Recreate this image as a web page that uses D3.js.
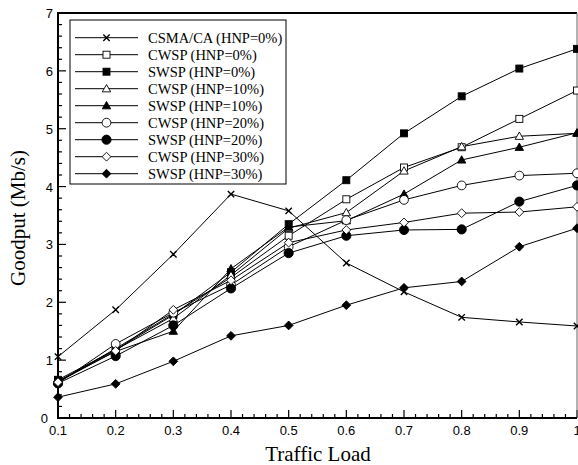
<!DOCTYPE html>
<html>
<head>
<meta charset="utf-8">
<script src="https://cdn.jsdelivr.net/npm/d3@7"></script>
<style>
  body { margin: 0; background: #fff; }
  svg { display: block; }
</style>
</head>
<body>
<script>
const loads = [0.1, 0.2, 0.3, 0.4, 0.5, 0.6, 0.7, 0.8, 0.9, 1.0]
const seriesNames = [
  'CSMA/CA (HNP=0%)',
  'CWSP (HNP=0%)',
  'SWSP (HNP=0%)',
  'CWSP (HNP=10%)',
  'SWSP (HNP=10%)',
  'CWSP (HNP=20%)',
  'SWSP (HNP=20%)',
  'CWSP (HNP=30%)',
  'SWSP (HNP=30%)'
]
const markerTypes = ['x', 'square', 'square', 'triangle', 'triangle', 'circle', 'circle', 'diamond', 'diamond']
const markerFilled = [false, false, true, false, true, false, true, false, true]

const csma0 = [1.06, 1.87, 2.83, 3.87, 3.58, 2.68, 2.18, 1.74, 1.66, 1.59]
const cwsp0 = [0.62, 1.20, 1.80, 2.43, 3.15, 3.78, 4.33, 4.68, 5.17, 5.66]
const swsp0 = [0.66, 1.18, 1.78, 2.52, 3.35, 4.11, 4.92, 5.56, 6.04, 6.38]
const cwsp10 = [0.63, 1.18, 1.72, 2.47, 3.28, 3.55, 4.27, 4.69, 4.87, 4.92]
const swsp10 = [0.64, 1.15, 1.50, 2.58, 3.30, 3.41, 3.87, 4.46, 4.68, 4.93]
const cwsp20 = [0.60, 1.28, 1.82, 2.30, 2.96, 3.42, 3.77, 4.02, 4.19, 4.23]
const swsp20 = [0.60, 1.07, 1.60, 2.24, 2.85, 3.15, 3.25, 3.26, 3.74, 4.02]
const cwsp30 = [0.62, 1.16, 1.87, 2.38, 3.03, 3.25, 3.38, 3.54, 3.56, 3.65]
const swsp30 = [0.36, 0.59, 0.98, 1.42, 1.60, 1.95, 2.25, 2.36, 2.96, 3.28]

const xTicks = [0.1, 0.2, 0.3, 0.4, 0.5, 0.6, 0.7, 0.8, 0.9, 1]
const yTicks = [0, 1, 2, 3, 4, 5, 6, 7]

const allSeries = [csma0, cwsp0, swsp0, cwsp10, swsp10, cwsp20, swsp20, cwsp30, swsp30]

const size = { width: 578, height: 465 }
const plot = { left: 58, right: 577, top: 13, bottom: 418 }

const svg = d3.select('body')
  .append('svg')
  .attr('width', size.width)
  .attr('height', size.height)

const xScale = d3.scaleLinear().domain([0.1, 1]).range([plot.left, plot.right])
const yScale = d3.scaleLinear().domain([0, 7]).range([plot.bottom, plot.top])

// draw one marker of the given type at (x, y)
function marker(g, type, filled, x, y) {
  const fill = filled ? '#000' : '#fff'
  if (type === 'x') {
    const s = 3.2
    g.append('path')
      .attr('d', `M${x - s},${y - s}L${x + s},${y + s}M${x - s},${y + s}L${x + s},${y - s}`)
      .attr('stroke', '#000').attr('stroke-width', 1.4).attr('fill', 'none')
  } else if (type === 'square') {
    const s = 3.5
    g.append('rect')
      .attr('x', x - s).attr('y', y - s).attr('width', 2 * s).attr('height', 2 * s)
      .attr('fill', fill).attr('stroke', '#000').attr('stroke-width', 0.9)
  } else if (type === 'triangle') {
    const s = 4.2
    g.append('path')
      .attr('d', `M${x},${y - s}L${x + s},${y + s * 0.75}L${x - s},${y + s * 0.75}Z`)
      .attr('fill', fill).attr('stroke', '#000').attr('stroke-width', 0.9)
  } else if (type === 'circle') {
    g.append('circle')
      .attr('cx', x).attr('cy', y).attr('r', filled ? 4.6 : 4.4)
      .attr('fill', fill).attr('stroke', '#000').attr('stroke-width', 0.9)
  } else if (type === 'diamond') {
    const s = 4.4
    g.append('path')
      .attr('d', `M${x},${y - s}L${x + s},${y}L${x},${y + s}L${x - s},${y}Z`)
      .attr('fill', fill).attr('stroke', '#000').attr('stroke-width', 0.9)
  }
}

// axes ticks (inward)
const axisG = svg.append('g')
const xMinor = d3.range(0.1, 1.0001, 0.02)
xMinor.forEach(v => {
  const major = Math.abs(Math.round(v * 10) - v * 10) < 1e-6
  axisG.append('line')
    .attr('x1', xScale(v)).attr('x2', xScale(v))
    .attr('y1', plot.bottom).attr('y2', plot.bottom - (major ? 8 : 4))
    .attr('stroke', '#000').attr('stroke-width', 1.2)
})
const yMinor = d3.range(0, 7.0001, 0.2)
yMinor.forEach(v => {
  const major = Math.abs(Math.round(v) - v) < 1e-6
  axisG.append('line')
    .attr('x1', plot.left).attr('x2', plot.left + (major ? 8 : 4))
    .attr('y1', yScale(v)).attr('y2', yScale(v))
    .attr('stroke', '#000').attr('stroke-width', 1.2)
})

xTicks.forEach(v => {
  svg.append('text')
    .attr('x', xScale(v))
    .attr('y', plot.bottom + 17)
    .attr('text-anchor', 'middle')
    .style('font-family', 'Liberation Sans, Arial, sans-serif')
    .style('font-size', '13px')
    .text(v === 1 ? '1' : v.toFixed(1))
})
yTicks.forEach(v => {
  svg.append('text')
    .attr('x', plot.left - (v === 0 ? 10 : 5))
    .attr('y', yScale(v) + 5)
    .attr('text-anchor', 'end')
    .style('font-family', 'Liberation Sans, Arial, sans-serif')
    .style('font-size', '13px')
    .text(v)
})

// frame
svg.append('line').attr('x1', plot.left).attr('x2', plot.right).attr('y1', plot.top).attr('y2', plot.top)
  .attr('stroke', '#000').attr('stroke-width', 2)
svg.append('line').attr('x1', plot.right).attr('x2', plot.right).attr('y1', plot.top).attr('y2', plot.bottom)
  .attr('stroke', '#666').attr('stroke-width', 1)
svg.append('line').attr('x1', plot.left).attr('x2', plot.left).attr('y1', plot.top - 1).attr('y2', plot.bottom + 1)
  .attr('stroke', '#000').attr('stroke-width', 2)
svg.append('line').attr('x1', plot.left - 1).attr('x2', plot.right).attr('y1', plot.bottom).attr('y2', plot.bottom)
  .attr('stroke', '#000').attr('stroke-width', 2)

// axis titles
svg.append('text')
  .attr('x', 318)
  .attr('y', 461)
  .attr('text-anchor', 'middle')
  .style('font-family', 'Liberation Serif, Times New Roman, serif')
  .style('font-size', '21px')
  .text('Traffic Load')

svg.append('text')
  .attr('transform', 'translate(25,218)rotate(-90)')
  .attr('text-anchor', 'middle')
  .style('font-family', 'Liberation Serif, Times New Roman, serif')
  .style('font-size', '21px')
  .text('Goodput (Mb/s)')

// series
const line = d3.line()
  .x((d, i) => xScale(loads[i]))
  .y(d => yScale(d))

const seriesG = svg.append('g')
allSeries.forEach((vals, k) => {
  seriesG.append('path')
    .attr('d', line(vals))
    .attr('fill', 'none')
    .attr('stroke', '#000')
    .attr('stroke-width', 1)
})
allSeries.forEach((vals, k) => {
  vals.forEach((v, i) => marker(seriesG, markerTypes[k], markerFilled[k], xScale(loads[i]), yScale(v)))
})

// legend
const legend = svg.append('g')
legend.append('rect')
  .attr('x', 70).attr('y', 20).attr('width', 216).attr('height', 164)
  .attr('fill', '#fff').attr('stroke', '#000').attr('stroke-width', 1)
seriesNames.forEach((name, k) => {
  const y = 37.7 + k * 17
  legend.append('line')
    .attr('x1', 75).attr('x2', 138).attr('y1', y).attr('y2', y)
    .attr('stroke', '#000').attr('stroke-width', 1)
  marker(legend, markerTypes[k], markerFilled[k], 106.5, y)
  legend.append('text')
    .attr('x', 148).attr('y', y + 5)
    .style('font-family', 'Liberation Serif, Times New Roman, serif')
    .style('font-size', '14.5px')
    .text(name)
})
</script>
</body>
</html>
